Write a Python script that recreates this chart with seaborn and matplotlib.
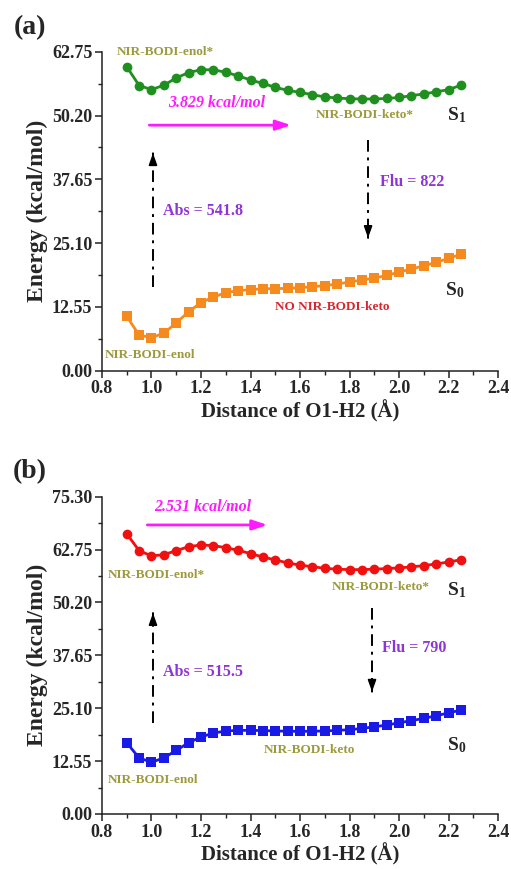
import numpy as np
import pandas as pd
import matplotlib
matplotlib.use("Agg")
import matplotlib.pyplot as plt
from matplotlib.ticker import MultipleLocator, FixedLocator
import seaborn as sns

# ---------------- data ----------------
distance = [0.90, 0.95, 1.00, 1.05, 1.10, 1.15, 1.20, 1.25, 1.30, 1.35,
            1.40, 1.45, 1.50, 1.55, 1.60, 1.65, 1.70, 1.75, 1.80, 1.85,
            1.90, 1.95, 2.00, 2.05, 2.10, 2.15, 2.20, 2.25]

a_S1 = [59.8, 56.1, 55.3, 56.15, 57.6, 58.65, 59.2, 59.2, 58.7, 58.0,
        57.2, 56.5, 55.75, 55.15, 54.75, 54.3, 53.85, 53.65, 53.5, 53.45,
        53.45, 53.55, 53.75, 54.1, 54.45, 54.85, 55.3, 56.15]
a_S0 = [10.7, 7.0, 6.5, 7.4, 9.4, 11.6, 13.4, 14.5, 15.35, 15.75,
        15.95, 16.1, 16.15, 16.2, 16.35, 16.5, 16.75, 17.05, 17.45, 17.85,
        18.2, 18.75, 19.4, 20.0, 20.65, 21.3, 22.1, 22.9]

b_S1 = [66.5, 62.5, 61.25, 61.55, 62.5, 63.45, 63.85, 63.7, 63.2, 62.6,
        61.8, 61.0, 60.3, 59.6, 59.05, 58.7, 58.3, 58.1, 58.0, 58.0,
        58.1, 58.25, 58.4, 58.65, 58.95, 59.35, 59.8, 60.35]
b_S0 = [16.9, 13.3, 12.3, 13.3, 15.1, 16.9, 18.3, 19.2, 19.7, 19.85,
        19.85, 19.8, 19.7, 19.65, 19.6, 19.65, 19.7, 19.85, 20.0, 20.3,
        20.7, 21.1, 21.65, 22.15, 22.7, 23.3, 24.0, 24.65]

x_ticks = [0.8, 1.0, 1.2, 1.4, 1.6, 1.8, 2.0, 2.2, 2.4]
a_yticks = [0.00, 12.55, 25.10, 37.65, 50.20, 62.75]
b_yticks = [0.00, 12.55, 25.10, 37.65, 50.20, 62.75, 75.30]

abs_a, flu_a = "541.8", "822"
abs_b, flu_b = "515.5", "790"
barrier_a, barrier_b = "3.829", "2.531"

# ---------------- style ----------------
sns.set_style("ticks")
plt.rcParams['font.family'] = ['Liberation Serif', 'DejaVu Serif']
plt.rcParams['font.weight'] = 'bold'
plt.rcParams['axes.labelweight'] = 'bold'
plt.rcParams['mathtext.fontset'] = 'custom'
plt.rcParams['mathtext.rm'] = 'Liberation Serif:bold'
plt.rcParams['mathtext.bf'] = 'Liberation Serif:bold'

OLIVE = "#9c9a3c"
PURPLE = "#8e35d8"
MAGENTA = "#ff1aff"
RED_T = "#d8262e"

fig = plt.figure(figsize=(5.11, 8.69), dpi=100)
ax_a = fig.add_axes([0.1996, 0.5734, 0.775, 0.3671])
ax_b = fig.add_axes([0.1996, 0.0633, 0.775, 0.3651])


def setup(ax, yticks):
    ax.set_xlim(0.8, 2.4)
    ax.set_ylim(0, yticks[-1])
    ax.set_xticks(x_ticks)
    ax.set_xticklabels([f"{v:.1f}" for v in x_ticks])
    ax.set_yticks(yticks)
    ax.set_yticklabels([f"{v:.2f}" for v in yticks])
    ax.xaxis.set_minor_locator(MultipleLocator(0.1))
    ax.yaxis.set_minor_locator(FixedLocator([v + 6.275 for v in yticks[:-1]]))
    for s in ['top', 'right']:
        ax.spines[s].set_visible(False)
    for s in ['left', 'bottom']:
        ax.spines[s].set_linewidth(1.1)
        ax.spines[s].set_color('#222222')
    ax.tick_params(which='major', direction='out', length=5, width=1.1,
                   labelsize=13, pad=2, color='#222222')
    ax.tick_params(which='minor', direction='out', length=3, width=1.0, color='#222222')
    for lab in ax.get_xticklabels() + ax.get_yticklabels():
        lab.set_fontweight('bold')
    ax.set_xlabel("Distance of O1-H2 (Å)", fontsize=15, fontweight='bold', labelpad=2)
    ax.set_ylabel("Energy (kcal/mol)", fontsize=17, fontweight='bold', labelpad=3)


def curves(ax, s1, s0, c1, c0):
    df1 = pd.DataFrame({"d": distance, "E": s1})
    df0 = pd.DataFrame({"d": distance, "E": s0})
    sns.lineplot(data=df1, x="d", y="E", ax=ax, color=c1, marker='o',
                 markersize=7, markeredgewidth=0, linewidth=2.0, clip_on=False)
    sns.lineplot(data=df0, x="d", y="E", ax=ax, color=c0, marker='s',
                 markersize=6.5, markeredgewidth=0, linewidth=2.0, clip_on=False)


def vertical_arrow(ax, x, y0, y1):
    ax.plot([x, x], [y0, y1], color='black', lw=1.4, ls=(0, (6, 3, 1.5, 3)))
    sign = 1 if y1 > y0 else -1
    ax.annotate("", xy=(x, y1), xytext=(x, y1 - sign * 0.1),
                arrowprops=dict(arrowstyle='-|>,head_length=0.7,head_width=0.25',
                                color='black', lw=1.2))


# ---------------- panel (a) ----------------
setup(ax_a, a_yticks)
curves(ax_a, a_S1, a_S0, "#1f8f1f", "#f58a1e")
kw_small = dict(fontsize=9.5, fontweight='bold', color=OLIVE, ha='center', va='center')
ax_a.text(1.055, 62.7, "NIR-BODI-enol*", clip_on=False, **kw_small)
ax_a.text(1.863, 50.3, "NIR-BODI-keto*", **kw_small)
ax_a.text(0.994, 3.1, "NIR-BODI-enol", **kw_small)
ax_a.text(1.729, 12.5, "NO NIR-BODI-keto", fontsize=9.5, fontweight='bold',
          color=RED_T, ha='center', va='center')
ax_a.text(1.265, 52.7, f"{barrier_a} kcal/mol", fontsize=11.5, fontweight='bold',
          style='italic', color=MAGENTA, ha='center', va='center')
ax_a.annotate("", xy=(1.575, 48.3), xytext=(0.98, 48.3),
              arrowprops=dict(arrowstyle='-|>,head_length=0.9,head_width=0.3',
                              color=MAGENTA, lw=2))
ax_a.text(2.234, 50.3, r"$\mathbf{S_1}$", fontsize=14, ha='center', va='center')
ax_a.text(2.226, 15.9, r"$\mathbf{S_0}$", fontsize=14, ha='center', va='center')
vertical_arrow(ax_a, 1.006, 16.5, 42.8)
vertical_arrow(ax_a, 1.875, 45.4, 26.1)
ax_a.text(1.046, 31.4, f"Abs = {abs_a}", fontsize=11.5, fontweight='bold',
          color=PURPLE, ha='left', va='center')
ax_a.text(1.923, 37.1, f"Flu = {flu_a}", fontsize=11.5, fontweight='bold',
          color=PURPLE, ha='left', va='center')

# ---------------- panel (b) ----------------
setup(ax_b, b_yticks)
curves(ax_b, b_S1, b_S0, "#f01010", "#1a1ae6")
ax_b.text(1.018, 56.7, "NIR-BODI-enol*", **kw_small)
ax_b.text(1.927, 53.9, "NIR-BODI-keto*", **kw_small)
ax_b.text(1.006, 8.1, "NIR-BODI-enol", **kw_small)
ax_b.text(1.64, 15.2, "NIR-BODI-keto", **kw_small)
ax_b.text(1.208, 72.85, f"{barrier_b} kcal/mol", fontsize=11.5, fontweight='bold',
          style='italic', color=MAGENTA, ha='center', va='center')
ax_b.annotate("", xy=(1.48, 68.6), xytext=(0.972, 68.6),
              arrowprops=dict(arrowstyle='-|>,head_length=0.9,head_width=0.3',
                              color=MAGENTA, lw=2))
ax_b.text(2.232, 53.2, r"$\mathbf{S_1}$", fontsize=14, ha='center', va='center')
ax_b.text(2.234, 16.4, r"$\mathbf{S_0}$", fontsize=14, ha='center', va='center')
vertical_arrow(ax_b, 1.006, 21.6, 47.7)
vertical_arrow(ax_b, 1.891, 48.9, 29.0)
ax_b.text(1.046, 33.7, f"Abs = {abs_b}", fontsize=11.5, fontweight='bold',
          color=PURPLE, ha='left', va='center')
ax_b.text(1.931, 39.4, f"Flu = {flu_b}", fontsize=11.5, fontweight='bold',
          color=PURPLE, ha='left', va='center')

fig.text(30 / 511, 1 - 28 / 869, "(a)", fontsize=20, fontweight='bold', ha='center', va='center')
fig.text(30 / 511, 1 - 472 / 869, "(b)", fontsize=20, fontweight='bold', ha='center', va='center')

fig.savefig("out.png", dpi=100)
